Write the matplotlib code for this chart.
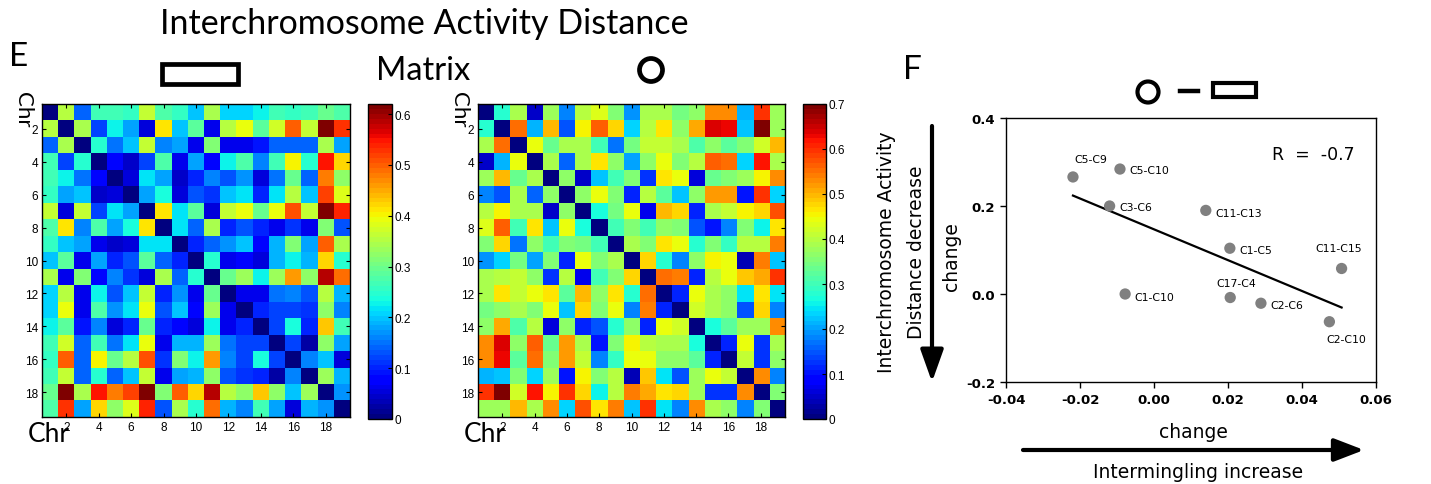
import numpy as np
import matplotlib
matplotlib.use("Agg")
import matplotlib.pyplot as plt
from matplotlib.patches import Rectangle, Ellipse, FancyArrowPatch
from matplotlib.lines import Line2D

# ---------------- data ----------------
chromosomes = list(range(1, 20))
heat_ticks = [2, 4, 6, 8, 10, 12, 14, 16, 18]

# upper triangles (row i, columns i+1..19); matrices are symmetric with zero diagonal
rect_upper = [
    [0.35,0.14,0.27,0.27,0.26,0.36,0.28,0.26,0.20,0.34,0.21,0.21,0.23,0.27,0.26,0.27,0.30,0.28],
    [0.34,0.12,0.23,0.18,0.05,0.41,0.20,0.29,0.06,0.35,0.39,0.29,0.37,0.50,0.36,0.62,0.53],
    [0.25,0.15,0.20,0.36,0.16,0.18,0.06,0.31,0.06,0.06,0.09,0.14,0.14,0.14,0.34,0.18],
    [0.08,0.04,0.12,0.28,0.06,0.18,0.08,0.23,0.28,0.16,0.27,0.40,0.25,0.55,0.42],
    [0.05,0.22,0.18,0.04,0.10,0.16,0.13,0.17,0.05,0.15,0.30,0.14,0.48,0.32],
    [0.18,0.24,0.05,0.13,0.11,0.20,0.22,0.10,0.22,0.35,0.20,0.52,0.38],
    [0.41,0.22,0.29,0.05,0.36,0.39,0.30,0.39,0.51,0.36,0.62,0.54],
    [0.22,0.14,0.34,0.10,0.13,0.10,0.06,0.11,0.06,0.31,0.13],
    [0.10,0.14,0.17,0.20,0.08,0.19,0.31,0.18,0.50,0.34],
    [0.25,0.06,0.08,0.05,0.19,0.23,0.19,0.42,0.25],
    [0.30,0.33,0.23,0.33,0.46,0.32,0.59,0.49],
    [0.06,0.06,0.15,0.16,0.13,0.35,0.19],
    [0.10,0.12,0.12,0.11,0.32,0.16],
    [0.12,0.24,0.10,0.43,0.27],
    [0.12,0.02,0.32,0.18],
    [0.16,0.20,0.05],
    [0.33,0.19],
    [0.17],
]
circ_upper = [
    [0.28,0.39,0.05,0.38,0.18,0.40,0.43,0.36,0.19,0.39,0.39,0.34,0.37,0.53,0.53,0.21,0.60,0.38],
    [0.55,0.21,0.50,0.15,0.45,0.56,0.48,0.23,0.40,0.46,0.37,0.51,0.64,0.63,0.22,0.70,0.38],
    [0.44,0.33,0.39,0.39,0.30,0.17,0.34,0.41,0.41,0.39,0.31,0.37,0.32,0.36,0.42,0.50],
    [0.39,0.16,0.39,0.47,0.37,0.20,0.37,0.44,0.36,0.40,0.56,0.55,0.24,0.62,0.39],
    [0.37,0.05,0.22,0.30,0.36,0.13,0.46,0.44,0.06,0.33,0.36,0.38,0.45,0.53],
    [0.37,0.44,0.35,0.12,0.40,0.32,0.22,0.37,0.52,0.52,0.10,0.60,0.24],
    [0.27,0.34,0.44,0.07,0.50,0.48,0.12,0.39,0.41,0.45,0.48,0.57],
    [0.30,0.36,0.30,0.37,0.36,0.15,0.10,0.18,0.35,0.26,0.46],
    [0.39,0.35,0.46,0.44,0.28,0.36,0.29,0.40,0.40,0.54],
    [0.48,0.28,0.18,0.37,0.45,0.44,0.04,0.54,0.22],
    [0.55,0.54,0.12,0.40,0.44,0.49,0.51,0.60],
    [0.11,0.44,0.39,0.37,0.25,0.47,0.25],
    [0.42,0.39,0.37,0.15,0.48,0.18],
    [0.27,0.32,0.38,0.38,0.53],
    [0.12,0.44,0.13,0.39],
    [0.41,0.13,0.37],
    [0.53,0.18],
    [0.36],
]
rect_vmax = 0.62
circ_vmax = 0.70
rect_cbar_ticks = [0, 0.1, 0.2, 0.3, 0.4, 0.5, 0.6]
circ_cbar_ticks = [0, 0.1, 0.2, 0.3, 0.4, 0.5, 0.6, 0.7]

pair_names = ["C5-C9", "C5-C10", "C3-C6", "C11-C13", "C1-C5",
              "C11-C15", "C1-C10", "C17-C4", "C2-C6", "C2-C10"]
intermingling_change = [-0.0219, -0.0092, -0.0120, 0.0140, 0.0205,
                        0.0507, -0.0078, 0.0206, 0.0289, 0.0474]
activity_change = [0.266, 0.284, 0.200, 0.190, 0.104,
                   0.058, 0.000, -0.008, -0.021, -0.063]
scatter_xticks = [-0.04, -0.02, 0.00, 0.02, 0.04, 0.06]
scatter_yticks = [-0.2, 0.0, 0.2, 0.4]


def build_matrix(upper):
    n = len(upper) + 1
    m = np.zeros((n, n))
    for i, row in enumerate(upper):
        for k, v in enumerate(row):
            j = i + 1 + k
            m[i, j] = v
            m[j, i] = v
    return m


W, H = 1431, 485
fig = plt.figure(figsize=(W / 100, H / 100), dpi=100)
fig.patch.set_facecolor("white")


def box(x0, y0, x1, y1):
    return [x0 / W, 1 - y1 / H, (x1 - x0) / W, (y1 - y0) / H]


def fx(x):
    return x / W


def fy(y):
    return 1 - y / H


cmap = plt.get_cmap("jet", 64)
tick_font = dict(family="Liberation Sans", size=8.5)

for upper, vmax, cticks, hbox, cbox in [
    (rect_upper, rect_vmax, rect_cbar_ticks, (42, 105, 350, 418), (368, 105, 392, 420)),
    (circ_upper, circ_vmax, circ_cbar_ticks, (478, 105, 785, 418), (803, 105, 826, 420)),
]:
    mat = build_matrix(upper)
    ax = fig.add_axes(box(*hbox))
    n = len(chromosomes)
    im = ax.imshow(mat, cmap=cmap, vmin=0, vmax=vmax, aspect="auto",
                   extent=(0.5, n + 0.5, n + 0.5, 0.5), interpolation="nearest")
    ax.set_xticks(heat_ticks)
    ax.set_yticks(heat_ticks)
    ax.set_xticklabels([str(t) for t in heat_ticks], fontdict=tick_font)
    ax.set_yticklabels([str(t) for t in heat_ticks], fontdict=tick_font)
    ax.tick_params(direction="in", length=3, width=0.8, top=True, right=True, pad=3)
    for s in ax.spines.values():
        s.set_linewidth(1.0)
    cax = fig.add_axes(box(*cbox))
    cb = fig.colorbar(im, cax=cax, ticks=cticks)
    cb.ax.set_yticklabels([("%g" % t) for t in cticks], fontdict=tick_font)
    cb.ax.tick_params(direction="in", length=3, width=0.8, pad=2)
    cb.outline.set_linewidth(1.0)
    # "Chr" labels
    fig.text(fx(hbox[0] - 19), fy(hbox[1] - 13), "Chr", rotation=270, ha="center", va="top",
             fontsize=16, family="Lato")
    fig.text(fx(hbox[0] + 7), fy(hbox[3] + 17), "Chr", ha="center", va="center",
             fontsize=19, family="Lato")

# titles & panel letters
fig.text(fx(424), fy(24), "Interchromosome Activity Distance", ha="center", va="center",
         fontsize=24.5, family="Lato")
fig.text(fx(423), fy(71), "Matrix", ha="center", va="center", fontsize=23.5, family="Lato")
fig.text(fx(19), fy(57), "E", ha="center", va="center", fontsize=24, family="Lato")
fig.text(fx(912), fy(70), "F", ha="center", va="center", fontsize=24, family="Lato")

# shape glyphs
fig.add_artist(Rectangle((fx(162), fy(85)), (238 - 162) / W, (85 - 65) / H,
                         fill=False, lw=3.4, ec="black", transform=fig.transFigure))
fig.add_artist(Ellipse((fx(651), fy(71)), 23 / W, 23 / H, fill=False, lw=3.4,
                       ec="black", transform=fig.transFigure))
fig.add_artist(Ellipse((fx(1148), fy(93)), 21 / W, 21 / H, fill=False, lw=3.0,
                       ec="black", transform=fig.transFigure))
fig.add_artist(Line2D([fx(1180), fx(1198)], [fy(92), fy(92)], lw=3.2, color="black",
                      transform=fig.transFigure))
fig.add_artist(Rectangle((fx(1213), fy(98)), (1256 - 1213) / W, (98 - 84) / H,
                         fill=False, lw=3.0, ec="black", transform=fig.transFigure))

# ---------------- scatter ----------------
sfont = "DejaVu Sans"
sax = fig.add_axes(box(1006, 119, 1376, 383))
sax.scatter(intermingling_change, activity_change, s=66, color="#808080", zorder=3,
            edgecolors="none")
coef = np.polyfit(intermingling_change, activity_change, 1)
xl = np.array([min(intermingling_change), max(intermingling_change)])
sax.plot(xl, np.polyval(coef, xl), color="black", lw=1.6, zorder=2)
r = np.corrcoef(intermingling_change, activity_change)[0, 1]
sax.text(0.0318, 0.318, "R  =  %.1f" % r, fontsize=12.5, family=sfont,
         ha="left", va="center")

label_offsets = {
    "C5-C9": (13, 9, "center", "bottom"),
    "C5-C10": (7, -1, "left", "center"),
    "C3-C6": (7, -1, "left", "center"),
    "C11-C13": (7, -2, "left", "center"),
    "C1-C5": (7, -1, "left", "center"),
    "C11-C15": (-2, 11, "center", "bottom"),
    "C1-C10": (7, -2, "left", "center"),
    "C17-C4": (4, 7, "center", "bottom"),
    "C2-C6": (7, -1, "left", "center"),
    "C2-C10": (12, -9, "center", "top"),
}
for name, x, y in zip(pair_names, intermingling_change, activity_change):
    dx, dy, ha, va = label_offsets[name]
    sax.annotate(name, (x, y), xytext=(dx, dy), textcoords="offset points",
                 ha=ha, va=va, fontsize=7.8, family=sfont)

sax.set_xlim(-0.04, 0.06)
sax.set_ylim(-0.2, 0.4)
sax.set_xticks(scatter_xticks)
sax.set_yticks(scatter_yticks)
sax.set_xticklabels(["%.2f" % t for t in scatter_xticks], fontsize=9.5, fontweight="bold",
                    family=sfont)
sax.set_yticklabels(["%.1f" % t for t in scatter_yticks], fontsize=9.5, fontweight="bold",
                    family=sfont)
sax.tick_params(direction="out", length=4, width=1.0, pad=4)
for s in sax.spines.values():
    s.set_linewidth(1.0)

fig.text(fx(1193), fy(433), "change", ha="center", va="center", fontsize=13.5,
         family=sfont)
fig.text(fx(952), fy(257), "change", ha="center", va="center", fontsize=13.5,
         family=sfont, rotation=90)
fig.text(fx(887), fy(252), "Interchromosome Activity", ha="center", va="center",
         fontsize=13.5, family=sfont, rotation=90)
fig.text(fx(917), fy(252), "Distance decrease", ha="center", va="center",
         fontsize=13.5, family=sfont, rotation=90)
fig.text(fx(1198), fy(473), "Intermingling increase", ha="center", va="center",
         fontsize=13.5, family=sfont)

fig.add_artist(FancyArrowPatch((fx(932), fy(127)), (fx(932), fy(383)),
                               transform=fig.transFigure,
                               arrowstyle="-|>,head_length=1.4,head_width=0.5",
                               lw=3, color="black", mutation_scale=14,
                               shrinkA=0, shrinkB=0))
fig.add_artist(FancyArrowPatch((fx(1023), fy(451)), (fx(1364), fy(451)),
                               transform=fig.transFigure,
                               arrowstyle="-|>,head_length=1.3,head_width=0.5",
                               lw=3, color="black", mutation_scale=14,
                               shrinkA=0, shrinkB=0))

fig.savefig("out.png", dpi=100, facecolor="white")
